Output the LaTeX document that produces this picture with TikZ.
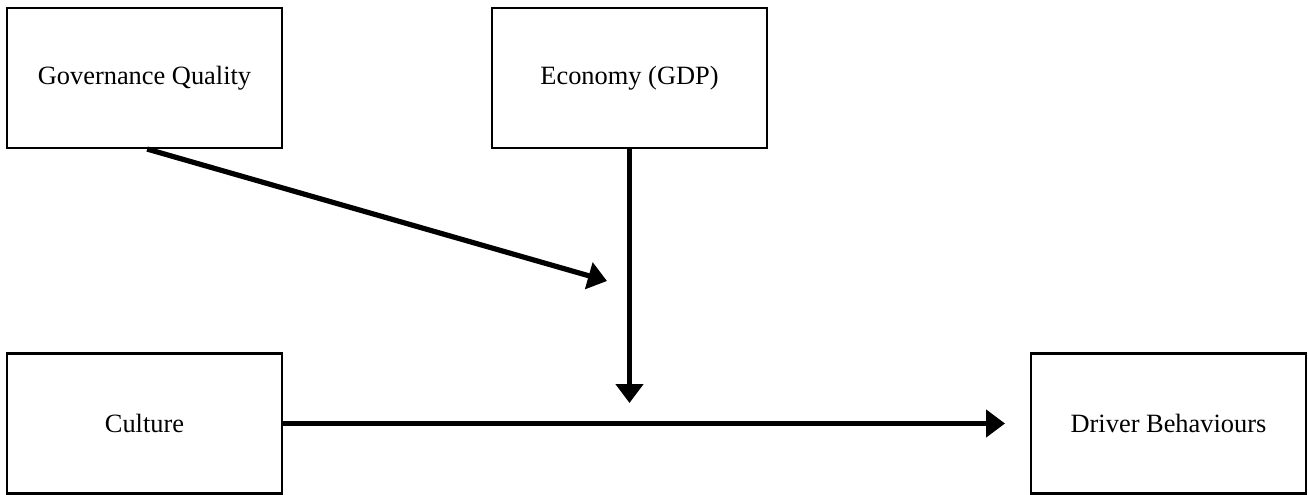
\documentclass[tikz,border=0pt]{standalone}
\usepackage{fontspec}
\setmainfont{Liberation Serif}
\usetikzlibrary{arrows.meta}
\begin{document}
\begin{tikzpicture}[x=0.75pt,y=-0.75pt,
  box/.style={draw=black,line width=1.6pt,minimum width=275*0.75pt,minimum height=140*0.75pt,inner sep=0pt,font=\fontsize{19.8pt}{24pt}\selectfont,fill=white},
  conn/.style={line width=3.9pt,-{Triangle[width=27*0.75pt,length=19*0.75pt]}}]
\useasboundingbox (0,0) rectangle (1308,495);
\node[box] (gov) at (144.5,78) {Governance Quality};
\node[box] (eco) at (629.5,78) {Economy (GDP)};
\node[box] (cul) at (144.5,423.5) {Culture};
\node[box] (drv) at (1168.5,423.5) {Driver Behaviours};
\coordinate (t1) at (607,281);
\coordinate (t2) at (629.5,403);
\coordinate (t3) at (1005,423.5);
\draw[conn] ([xshift=2pt]gov.south) -- (t1);
\draw[conn] (eco.south) -- (t2);
\draw[conn] (cul.east) -- (t3);
\end{tikzpicture}
\end{document}
